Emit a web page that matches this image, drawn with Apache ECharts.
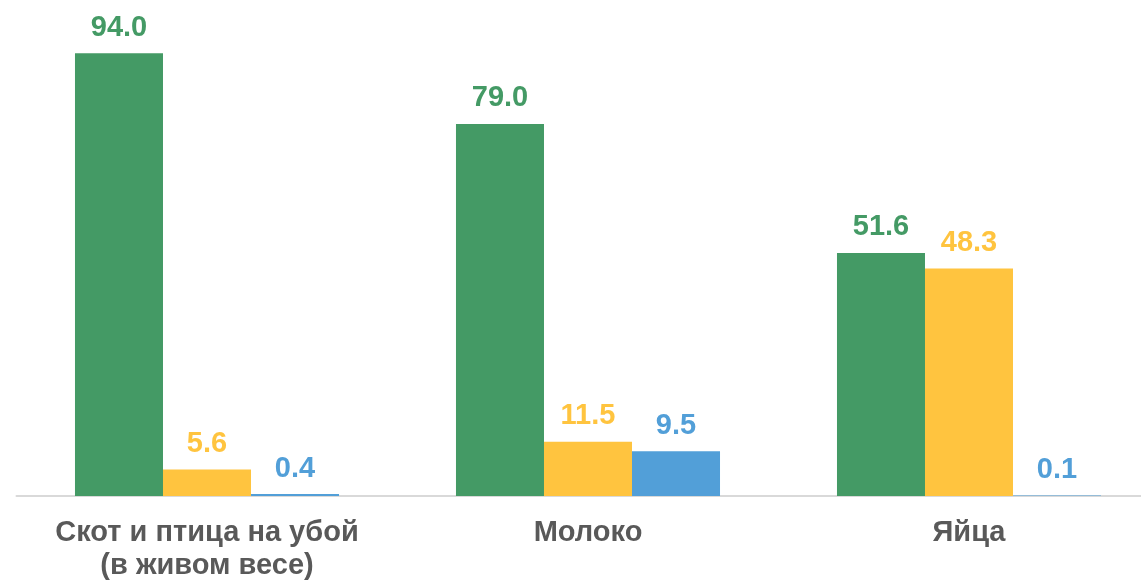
<!DOCTYPE html>
<html><head><meta charset="utf-8">
<script src="https://cdn.jsdelivr.net/npm/echarts@6/dist/echarts.min.js"></script>
<style>html,body{margin:0;padding:0;background:#fff;overflow:hidden;width:1141px;height:582px}#c{width:1160px;height:582px}</style>
</head><body><div id="c"></div>
<script>
var categories = ['Скот и птица на убой\n(в живом весе)', 'Молоко', 'Яйца'];
var seriesGreen = [94.0, 79.0, 51.6];
var seriesYellow = [5.6, 11.5, 48.3];
var seriesBlue = [0.4, 9.5, 0.1];
var colors = ['#449A65', '#FFC43F', '#529FD8'];

function mk(data, color) {
  return {
    type: 'bar', data: data, barGap: '0%', barCategoryGap: '30.7%',
    itemStyle: { color: color },
    label: { show: true, position: 'top', distance: 11, color: color,
      fontFamily: 'Liberation Sans, Arial, sans-serif', fontWeight: 'bold', fontSize: 29,
      formatter: function (p) { return p.value.toFixed(1); } }
  };
}
var chart = echarts.init(document.getElementById('c'), null, { renderer: 'canvas' });
chart.setOption({
  animation: false,
  grid: { left: 16.5, top: 25, right: 0.5, bottom: 86 },
  xAxis: { type: 'category', data: categories,
    axisLine: { lineStyle: { color: '#D9D9D9', width: 2 } },
    axisTick: { show: false },
    axisLabel: { color: '#595959', fontFamily: 'Liberation Sans, Arial, sans-serif', fontWeight: 'bold',
      fontSize: 29, lineHeight: 33, margin: 20, interval: 0 } },
  yAxis: { type: 'value', min: 0, max: 100, show: false, splitLine: { show: false } },
  series: [mk(seriesGreen, colors[0]), mk(seriesYellow, colors[1]), mk(seriesBlue, colors[2])]
});
</script></body></html>
